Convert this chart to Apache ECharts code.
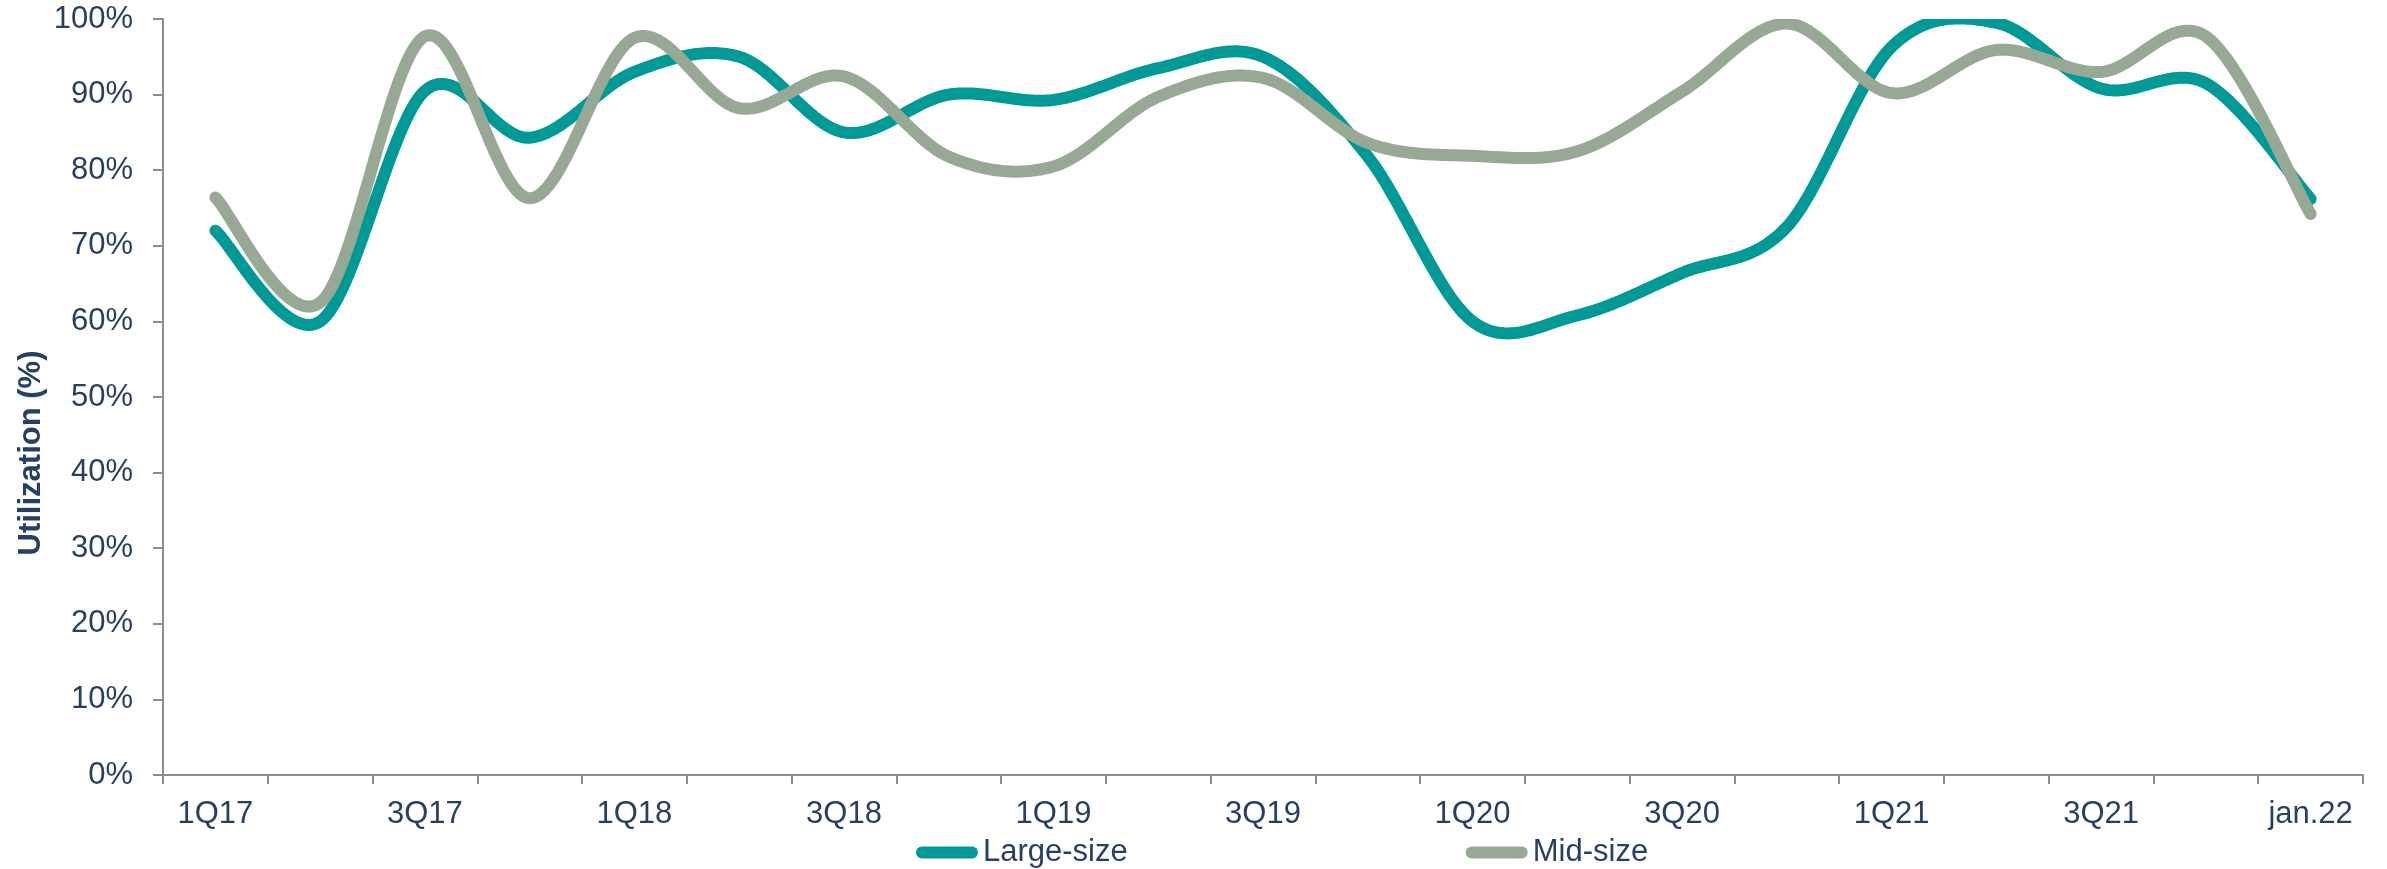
<!DOCTYPE html>
<html>
<head>
<meta charset="utf-8">
<script src="https://cdn.jsdelivr.net/npm/echarts@6/dist/echarts.min.js"></script>
<style>
html,body{margin:0;padding:0;background:#fff;}
#chart{width:2387px;height:869px;}
</style>
</head>
<body>
<div id="chart"></div>
<script>
var categories = ['1Q17','2Q17','3Q17','4Q17','1Q18','2Q18','3Q18','4Q18','1Q19','2Q19','3Q19','4Q19','1Q20','2Q20','3Q20','4Q20','1Q21','2Q21','3Q21','4Q21','jan.22'];
var largeSize = [72, 60, 90.5, 84.3, 93, 95, 85, 90, 89.3, 93.5, 95, 81.8, 60, 60.8, 66.4, 72.5, 96.3, 99.5, 90.8, 91.5, 76.2];
var midSize = [76.4, 62.5, 97.7, 76.3, 97.5, 88.2, 92.4, 81.8, 80.5, 89.7, 92.2, 83.6, 81.9, 82.5, 90.4, 99.4, 90.2, 95.9, 93.0, 97.7, 74.2];
var seriesNames = ['Large-size', 'Mid-size'];

var textColor = '#263f63';
var axisColor = '#8c8c8c';
var largeColor = '#009995';
var midColor = '#97a994';
var fontFamily = '"Liberation Sans", Arial, sans-serif';
var pill = 'path://M6,0 L56,0 A6,6 0 0 1 56,12 L6,12 A6,6 0 0 1 6,0 Z';

// Excel-like smoothed line (Catmull-Rom through the points, positioned by the chart's own axes)
function smoothRenderer(values, color) {
  return function (params, api) {
    if (params.dataIndex !== 0) return null;
    var pts = values.map(function (v, i) { return api.coord([i, v]); });
    var out = [];
    var n = pts.length;
    var steps = 40;
    for (var i = 0; i < n - 1; i++) {
      var p0 = pts[i - 1] || pts[i];
      var p1 = pts[i];
      var p2 = pts[i + 1];
      var p3 = pts[i + 2] || pts[i + 1];
      var c1 = [p1[0] + (p2[0] - p0[0]) / 6, p1[1] + (p2[1] - p0[1]) / 6];
      var c2 = [p2[0] - (p3[0] - p1[0]) / 6, p2[1] - (p3[1] - p1[1]) / 6];
      for (var s = (i === 0 ? 0 : 1); s <= steps; s++) {
        var t = s / steps, u = 1 - t;
        var b0 = u * u * u, b1 = 3 * u * u * t, b2 = 3 * u * t * t, b3 = t * t * t;
        out.push([
          b0 * p1[0] + b1 * c1[0] + b2 * c2[0] + b3 * p2[0],
          b0 * p1[1] + b1 * c1[1] + b2 * c2[1] + b3 * p2[1]
        ]);
      }
    }
    var cs = params.coordSys;
    return {
      type: 'group',
      clipPath: {type: 'rect', shape: {x: cs.x - 20, y: cs.y, width: cs.width + 40, height: cs.height}},
      children: [{
        type: 'polyline',
        shape: {points: out},
        style: {stroke: color, lineWidth: 12, fill: null, lineCap: 'round', lineJoin: 'round'}
      }]
    };
  };
}

function toPairs(values) { return values.map(function (v, i) { return [i, v]; }); }

var chart = echarts.init(document.getElementById('chart'), null, {renderer: 'canvas'});
chart.setOption({
  animation: false,
  backgroundColor: '#ffffff',
  textStyle: {fontFamily: fontFamily},
  grid: {left: 163, right: 24, top: 19, bottom: 94, containLabel: false},
  legend: {
    data: seriesNames,
    left: 911,
    top: 832,
    itemWidth: 62,
    itemHeight: 12,
    itemGap: 338,
    icon: pill,
    textStyle: {color: textColor, fontSize: 31, fontFamily: fontFamily}
  },
  xAxis: {
    type: 'category',
    data: categories,
    boundaryGap: true,
    axisLine: {lineStyle: {color: axisColor, width: 2}},
    axisTick: {show: true, interval: 0, length: 9, lineStyle: {color: axisColor, width: 2}},
    axisLabel: {interval: 1, color: textColor, fontSize: 31, margin: 24, fontFamily: fontFamily},
    splitLine: {show: false}
  },
  yAxis: {
    type: 'value',
    min: 0,
    max: 100,
    interval: 10,
    name: 'Utilization (%)',
    nameLocation: 'middle',
    nameGap: 116,
    nameMoveOverlap: false,
    nameTextStyle: {color: textColor, fontSize: 31, fontWeight: 'bold', fontFamily: fontFamily, padding: [0, 112, 0, 0]},
    axisLine: {show: true, lineStyle: {color: axisColor, width: 2}},
    axisTick: {show: true, length: 10, lineStyle: {color: axisColor, width: 2}},
    axisLabel: {color: textColor, fontSize: 31, margin: 30, formatter: '{value}%', fontFamily: fontFamily},
    splitLine: {show: false}
  },
  series: [
    {
      name: seriesNames[0],
      type: 'custom',
      data: toPairs(largeSize),
      encode: {x: 0, y: 1},
      renderItem: smoothRenderer(largeSize, largeColor),
      itemStyle: {color: largeColor}
    },
    {
      name: seriesNames[1],
      type: 'custom',
      data: toPairs(midSize),
      encode: {x: 0, y: 1},
      renderItem: smoothRenderer(midSize, midColor),
      itemStyle: {color: midColor}
    }
  ]
});
</script>
</body>
</html>
